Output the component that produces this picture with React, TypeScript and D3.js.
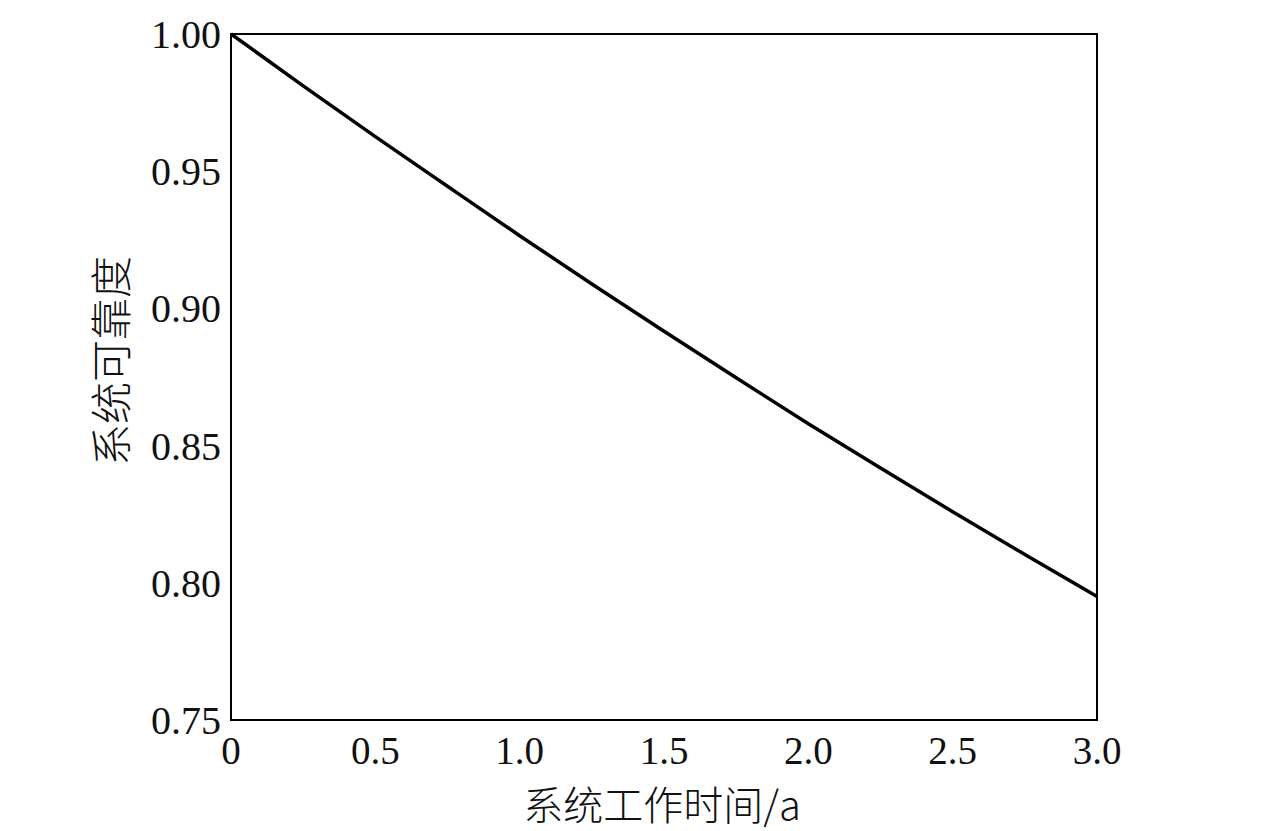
import React from "react";
import * as d3 from "d3";

const timeYears = [0, 0.25, 0.5, 0.75, 1.0, 1.25, 1.5, 1.75, 2.0, 2.25, 2.5, 2.75, 3.0];
const reliability = [1.0, 0.9811, 0.9626, 0.9445, 0.9265, 0.9089, 0.8917, 0.8747, 0.858, 0.8418, 0.8259, 0.8103, 0.795];
const xTicks = [0, 0.5, 1.0, 1.5, 2.0, 2.5, 3.0];
const xTickLabels = ["0", "0.5", "1.0", "1.5", "2.0", "2.5", "3.0"];
const yTicks = [0.75, 0.8, 0.85, 0.9, 0.95, 1.0];
const xTitle = "系统工作时间/a";
const yTitle = "系统可靠度";

export default function App() {
  const W = 1276, H = 831;
  const left = 231, right = 1097, top = 34, bottom = 720;
  const x = d3.scaleLinear().domain([0, 3]).range([left, right]);
  const y = d3.scaleLinear().domain([0.75, 1.0]).range([bottom, top]);
  const pts = timeYears.map((t, i) => [t, reliability[i]] as [number, number]);
  const line = d3.line<[number, number]>().x(d => x(d[0])).y(d => y(d[1])).curve(d3.curveNatural);
  const serif = "'Liberation Serif', 'Times New Roman', serif";
  const cjk = "'Noto Sans CJK SC', sans-serif";
  return (
    <svg width={W} height={H} style={{ position: "absolute", left: 0, top: 0, background: "#fff" }}>
      <rect x={left} y={top} width={right - left} height={bottom - top} fill="none" stroke="#000" strokeWidth={2} />
      <path d={line(pts) || ""} fill="none" stroke="#000" strokeWidth={3.5} />
      {yTicks.map(v => (
        <text key={v} x={221} y={y(v)} dy="0.35em" textAnchor="end" fontFamily={serif} fontSize={40} fill="#111">
          {v.toFixed(2)}
        </text>
      ))}
      {xTicks.map((v, i) => (
        <text key={v} x={x(v)} y={764} textAnchor="middle" fontFamily={serif} fontSize={39} fill="#111">
          {xTickLabels[i]}
        </text>
      ))}
      <text x={662} y={820} textAnchor="middle" fontFamily={cjk} fontSize={40} fontWeight={300} fill="#111">
        {xTitle}
      </text>
      <text transform={`translate(127,361) rotate(-90)`} textAnchor="middle" fontFamily={cjk} fontSize={42} fontWeight={300} fill="#111">
        {yTitle}
      </text>
    </svg>
  );
}
